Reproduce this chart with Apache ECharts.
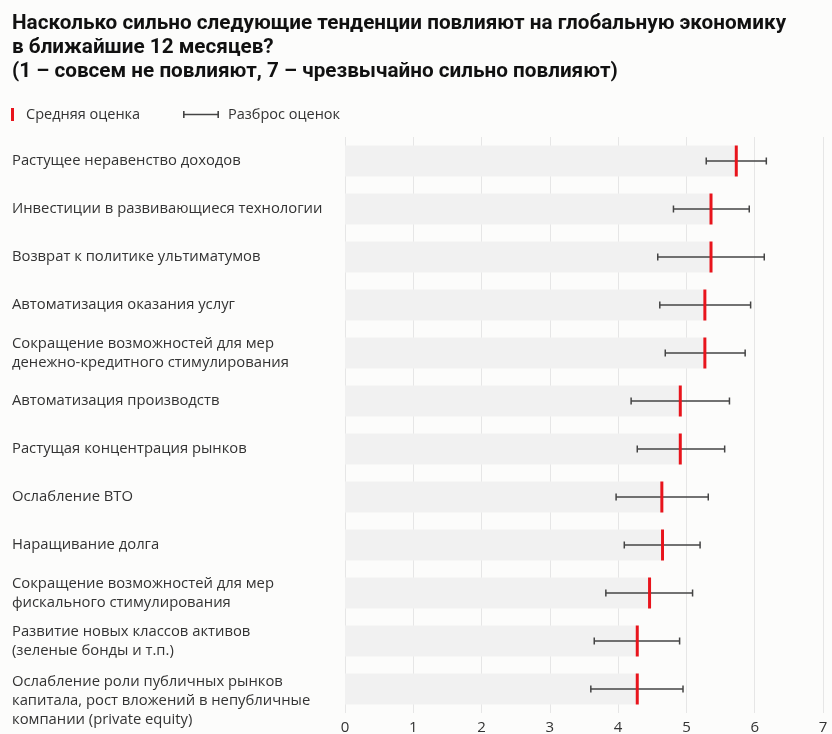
<!DOCTYPE html>
<html>
<head>
<meta charset="utf-8">
<script src="https://cdn.jsdelivr.net/npm/echarts@6/dist/echarts.min.js"></script>
<style>
html,body{margin:0;padding:0;background:#fcfcfb;}
#c{width:832px;height:734px;}
</style>
</head>
<body>
<div id="c"></div>
<script>
const categories = [
  'Растущее неравенство доходов',
  'Инвестиции в развивающиеся технологии',
  'Возврат к политике ультиматумов',
  'Автоматизация оказания услуг',
  'Сокращение возможностей для мер\nденежно-кредитного стимулирования',
  'Автоматизация производств',
  'Растущая концентрация рынков',
  'Ослабление ВТО',
  'Наращивание долга',
  'Сокращение возможностей для мер\nфискального стимулирования',
  'Развитие новых классов активов\n(зеленые бонды и т.п.)',
  'Ослабление роли публичных рынков\nкапитала, рост вложений в непубличные\nкомпании (private equity)'
];
const meanValues = [5.73, 5.36, 5.36, 5.27, 5.27, 4.91, 4.91, 4.64, 4.65, 4.46, 4.28, 4.28];
const lowValues  = [5.29, 4.81, 4.58, 4.61, 4.69, 4.19, 4.28, 3.97, 4.09, 3.82, 3.65, 3.60];
const highValues = [6.17, 5.92, 6.14, 5.94, 5.86, 5.63, 5.56, 5.32, 5.20, 5.09, 4.90, 4.95];
const xTicks = [0, 1, 2, 3, 4, 5, 6, 7];

const titleText = 'Насколько сильно следующие тенденции повлияют на глобальную экономику\nв ближайшие 12 месяцев?\n(1 – совсем не повлияют, 7 – чрезвычайно сильно повлияют)';

const chart = echarts.init(document.getElementById('c'));
const FONT = '"Open Sans", sans-serif';
const LABEL_SIZE = 14.8;

const rangeData = categories.map(function (c, i) { return [i, lowValues[i], highValues[i]]; });
const meanData = categories.map(function (c, i) { return [meanValues[i], i]; });

chart.setOption({
  backgroundColor: '#fcfcfb',
  animation: false,
  title: {
    text: titleText,
    left: 12,
    top: 12,
    padding: 0,
    textStyle: {
      fontFamily: 'Roboto, "Liberation Sans", sans-serif',
      fontWeight: 'bold',
      fontSize: 20.7,
      lineHeight: 24,
      color: '#111'
    }
  },
  legend: [
    {
      left: 11, top: 107, padding: 0,
      data: [{ name: 'Средняя оценка', icon: 'rect' }],
      itemWidth: 3, itemHeight: 13,
      selectedMode: false,
      textStyle: { fontFamily: FONT, fontSize: 14.5, color: '#333', padding: [0, 0, 0, 7] }
    },
    {
      left: 183, top: 107, padding: 0,
      data: [{ name: 'Разброс оценок', icon: 'path://M0,0h1.6v7h-1.6z M0,2.7h36v1.6h-36z M34.4,0h1.6v7h-1.6z' }],
      itemWidth: 36, itemHeight: 7,
      selectedMode: false,
      textStyle: { fontFamily: FONT, fontSize: 14.5, color: '#333', padding: [0, 0, 0, 4] }
    }
  ],
  grid: { left: 345, right: 9, top: 137, bottom: 21, containLabel: false, outerBoundsMode: 'none' },
  xAxis: {
    type: 'value',
    min: 0, max: 7, interval: 1,
    axisLine: { show: false },
    axisTick: { show: false },
    splitLine: { show: true, lineStyle: { color: '#e6e6e6', width: 1 } },
    axisLabel: {
      fontFamily: FONT, fontSize: 15, color: '#333', margin: 7,
      formatter: function (v) { return xTicks.indexOf(v) >= 0 ? String(v) : ''; }
    }
  },
  yAxis: {
    type: 'category',
    inverse: true,
    data: categories,
    axisLine: { show: false },
    axisTick: { show: false },
    splitLine: { show: false },
    axisLabel: {
      interval: 0,
      showMinLabel: true,
      showMaxLabel: true,
      hideOverlap: false,
      align: 'left',
      margin: 333,
      fontFamily: FONT,
      fontSize: LABEL_SIZE,
      lineHeight: 19,
      color: '#333',
      formatter: function (v) {
        const lines = v.split('\n');
        if (lines.length >= 3) {
          return '{sp| }\n' + lines.map(function (l) { return '{a|' + l + '}'; }).join('\n');
        }
        return v;
      },
      rich: {
        sp: { fontSize: 2, lineHeight: 24 },
        a: { fontFamily: FONT, fontSize: LABEL_SIZE, lineHeight: 19, color: '#333' }
      }
    }
  },
  series: [
    {
      type: 'bar',
      name: 'bg',
      data: meanValues,
      barWidth: 31,
      silent: true,
      itemStyle: { color: '#f1f1f1' },
      z: 1
    },
    {
      type: 'custom',
      name: 'Разброс оценок',
      data: rangeData,
      encode: { x: [1, 2], y: 0 },
      itemStyle: { color: '#444' },
      z: 3,
      renderItem: function (params, api) {
        const idx = api.value(0);
        const p1 = api.coord([api.value(1), idx]);
        const p2 = api.coord([api.value(2), idx]);
        const h = 3.5;
        const st = { stroke: '#444', lineWidth: 1.5 };
        return {
          type: 'group',
          children: [
            { type: 'line', shape: { x1: p1[0], y1: p1[1], x2: p2[0], y2: p2[1] }, style: st },
            { type: 'line', shape: { x1: p1[0], y1: p1[1] - h, x2: p1[0], y2: p1[1] + h }, style: st },
            { type: 'line', shape: { x1: p2[0], y1: p2[1] - h, x2: p2[0], y2: p2[1] + h }, style: st }
          ]
        };
      }
    },
    {
      type: 'scatter',
      name: 'Средняя оценка',
      data: meanData,
      symbol: 'rect',
      symbolSize: [3, 31],
      itemStyle: { color: '#e8141c', opacity: 1 },
      z: 4
    }
  ]
});
</script>
</body>
</html>
